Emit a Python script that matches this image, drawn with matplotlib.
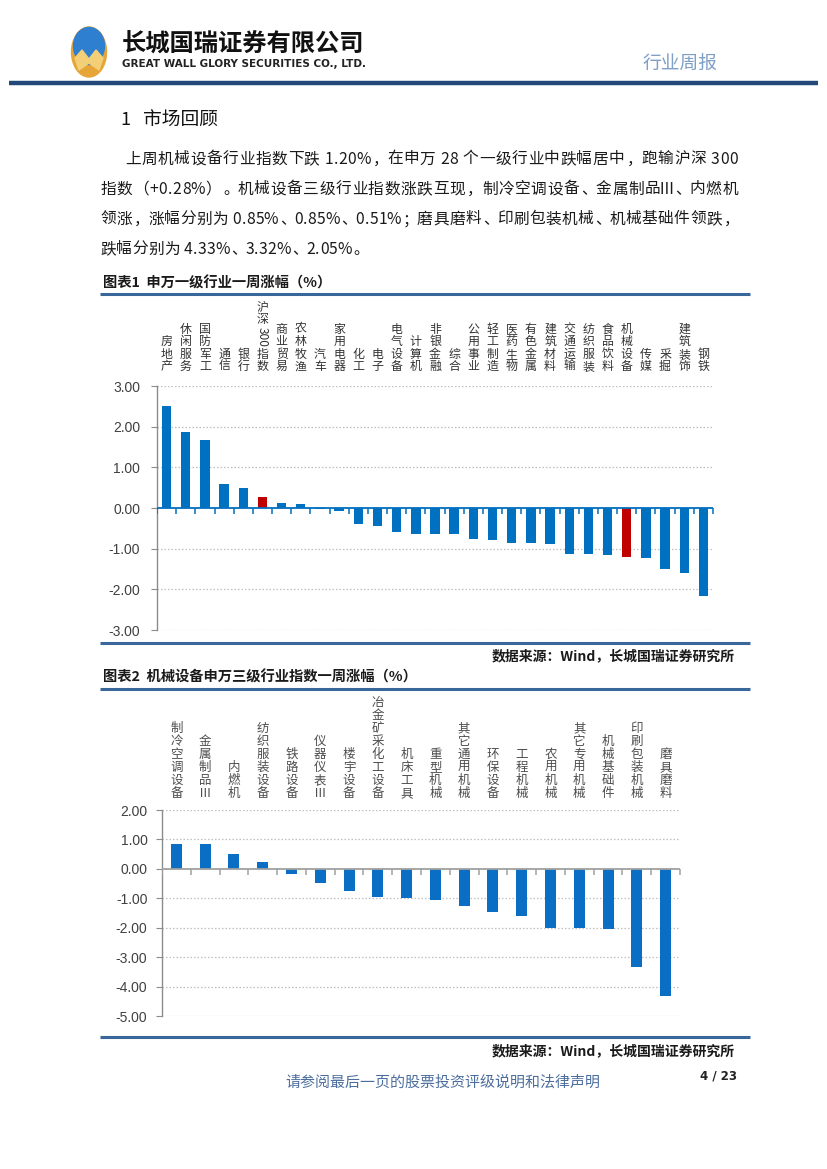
import matplotlib
matplotlib.use("Agg")
import matplotlib.pyplot as plt
from matplotlib.patches import Ellipse, Polygon
from matplotlib.ticker import FormatStrFormatter
from matplotlib.transforms import blended_transform_factory, offset_copy

plt.rcParams["font.family"] = ["Noto Sans CJK SC", "DejaVu Sans"]
plt.rcParams["axes.unicode_minus"] = False

W, H = 827, 1169

# 图表1 申万一级行业一周涨幅
sw_names = ["房地产", "休闲服务", "国防军工", "通信", "银行", "沪深300指数", "商业贸易",
            "农林牧渔", "汽车", "家用电器", "化工", "电子", "电气设备", "计算机",
            "非银金融", "综合", "公用事业", "轻工制造", "医药生物", "有色金属",
            "建筑材料", "交通运输", "纺织服装", "食品饮料", "机械设备", "传媒",
            "采掘", "建筑装饰", "钢铁"]
sw_values = [2.50, 1.87, 1.68, 0.58, 0.48, 0.28, 0.12, 0.09, -0.02, -0.08, -0.40,
             -0.44, -0.58, -0.64, -0.65, -0.65, -0.75, -0.78, -0.85, -0.87, -0.89,
             -1.12, -1.12, -1.16, -1.20, -1.22, -1.51, -1.61, -2.17]
highlight = ["沪深300指数", "机械设备"]

# 图表2 机械设备申万三级行业指数一周涨幅
mech_names = ["制冷空调设备", "金属制品Ⅲ", "内燃机", "纺织服装设备", "铁路设备",
              "仪器仪表Ⅲ", "楼宇设备", "冶金矿采化工设备", "机床工具", "重型机械",
              "其它通用机械", "环保设备", "工程机械", "农用机械", "其它专用机械",
              "机械基础件", "印刷包装机械", "磨具磨料"]
mech_values = [0.85, 0.85, 0.51, 0.23, -0.19, -0.48, -0.76, -0.94, -0.99, -1.05,
               -1.27, -1.47, -1.60, -2.00, -2.00, -2.05, -3.32, -4.33]

para_lines = [
    "上周机械设备行业指数下跌 1.20%，在申万 28 个一级行业中跌幅居中，跑输沪深 300",
    "指数（+0.28%）。机械设备三级行业指数涨跌互现，制冷空调设备、金属制品Ⅲ、内燃机",
    "领涨，涨幅分别为 0.85%、0.85%、0.51%；磨具磨料、印刷包装机械、机械基础件领跌，",
    "跌幅分别为 4.33%、3.32%、2.05%。",
]

BLUE = "#0070C0"
RED = "#C00000"
RULE = "#3A679B"

fig = plt.figure(figsize=(W / 100, H / 100), dpi=100)
bg = fig.add_axes([0, 0, 1, 1])
bg.set_xlim(0, W)
bg.set_ylim(H, 0)
bg.axis("off")

# ---- header ----
bg.add_patch(Ellipse((89, 52), 35, 50, color="#E7A437", zorder=2))
bg.add_patch(Ellipse((89, 46), 31, 37, color="#2F7FD0", zorder=3))
bg.add_patch(Polygon([(75, 58), (82, 50), (89, 59), (96, 50), (103, 58), (99, 70),
                      (89, 63), (79, 70)], closed=True, color="#F3CF78", zorder=4))
bg.text(122, 45, "长城国瑞证券有限公司", fontsize=17.5, fontweight="bold",
        color="#111111", va="center")
bg.text(122, 64, "GREAT WALL GLORY SECURITIES CO., LTD.", fontsize=7.5,
        fontweight="bold", color="#222222", va="center", family="DejaVu Sans")
bg.text(718, 63, "行业周报", fontsize=13.5, color="#7E9FC6", va="center", ha="right")
bg.plot([9, 818], [83, 83], color="#22497A", lw=3.2, solid_capstyle="butt")

# ---- section text ----
bg.text(120, 120, "1", fontsize=13, color="#111111", va="center")
bg.text(143, 120, "市场回顾", fontsize=13.5, color="#111111", va="center")

EM = 16.0
ascii_w = {".": 0.28, "%": 0.86, " ": 0.25, "+": 0.58}


def char_w(ch):
    if ch.isdigit():
        return 0.56 * EM
    if ch in ascii_w:
        return ascii_w[ch] * EM
    if ch == "Ⅲ":
        return 0.75 * EM
    return EM


def draw_line(text, x0, y, x1=None):
    widths = [char_w(c) for c in text]
    gap = 0.0
    if x1 is not None:
        gap = (x1 - x0 - sum(widths)) / (len(text) - 1)
    x = x0
    for c, w in zip(text, widths):
        if c in "，、。；：":
            # glyph sits low-left in its cell
            bg.text(x + 0.12 * EM, y + 0.05 * EM, c, fontsize=11.3, color="#1A1A1A",
                    ha="left", va="center")
        elif c != " ":
            bg.text(x + w / 2, y, c, fontsize=11.3, color="#1A1A1A",
                    ha="center", va="center")
        x += w + gap


draw_line(para_lines[0], 125, 159, 738)
draw_line(para_lines[1], 100, 189, 738)
draw_line(para_lines[2], 100, 219, 738)
draw_line(para_lines[3], 100, 249)


def split_tokens(name):
    toks = []
    for c in name:
        if c.isdigit() and toks and toks[-1].isdigit():
            toks[-1] += c
        else:
            toks.append(c)
    return toks


def vertical_labels(ax, names, gap, step, size, color):
    base = blended_transform_factory(ax.transData, ax.transAxes)
    for i, name in enumerate(names):
        pos = gap
        for tok in reversed(split_tokens(name)):
            if tok.isdigit():
                h = len(tok) * 0.56 * size * 100 / 72
                tr = offset_copy(base, fig=fig, x=0, y=pos + h / 2 + 1, units="dots")
                ax.text(i, 1, tok, rotation=-90, fontsize=size, color=color,
                        ha="center", va="center", transform=tr)
                pos += h + 2
            else:
                tr = offset_copy(base, fig=fig, x=0, y=pos + step / 2, units="dots")
                ax.text(i, 1, tok, fontsize=size, color=color, ha="center",
                        va="center", transform=tr)
                pos += step


def style_axes(ax, ylim, ticks, zero_color, pad):
    ax.set_ylim(*ylim)
    ax.set_yticks(ticks)
    ax.yaxis.set_major_formatter(FormatStrFormatter("%.2f"))
    ax.set_xticks([])
    for s in ["top", "right", "bottom"]:
        ax.spines[s].set_visible(False)
    ax.spines["left"].set_color("#8C8C8C")
    ax.spines["left"].set_linewidth(1.0)
    ax.tick_params(axis="y", length=4, color="#8C8C8C", pad=pad,
                   labelsize=10, labelcolor="#404040")
    plt.setp(ax.get_yticklabels(), family="Liberation Sans")
    for t in ticks:
        if t != 0:
            ax.axhline(t, color="#BFBFBF", lw=0.9, ls=(0, (1.2, 1.6)), zorder=0)
    n = len(ax.patches)
    bounds = [k - 0.5 for k in range(n + 1)]
    ax.axhline(0, color=zero_color, lw=1.3, zorder=3)
    # category tick marks hanging below the zero line
    ax.plot(bounds, [0] * len(bounds), ls="none", marker=3, ms=4,
            mew=1.1, color=zero_color, zorder=3)
    ax.set_xlim(-0.5, n - 0.5)


# ---- chart 1 ----
bg.text(103, 283, "图表1  申万一级行业一周涨幅（%）", fontsize=10.3, fontweight="bold",
        color="#1A1A1A", va="center")
bg.plot([100, 750], [294, 294], color=RULE, lw=2.2, solid_capstyle="butt")
ax1 = fig.add_axes([157 / W, 1 - 630 / H, (713 - 157) / W, (630 - 386) / H])
colors1 = [RED if n in highlight else BLUE for n in sw_names]
ax1.bar(range(len(sw_names)), sw_values, width=0.49, color=colors1, zorder=2)
style_axes(ax1, (-3, 3), [-3, -2, -1, 0, 1, 2, 3], BLUE, 8)
vertical_labels(ax1, sw_names, 13, 12.5, 8.6, "#333333")
bg.plot([100, 750], [643, 643], color=RULE, lw=2.2, solid_capstyle="butt")
bg.text(735, 656, "数据来源：Wind，长城国瑞证券研究所", fontsize=10, fontweight="bold",
        color="#1A1A1A", va="center", ha="right")

# ---- chart 2 ----
bg.text(103, 677, "图表2  机械设备申万三级行业指数一周涨幅（%）", fontsize=10.3,
        fontweight="bold", color="#1A1A1A", va="center")
bg.plot([100, 750], [689, 689], color=RULE, lw=2.2, solid_capstyle="butt")
ax2 = fig.add_axes([162 / W, 1 - 1016 / H, (680 - 162) / W, (1016 - 810) / H])
ax2.bar(range(len(mech_names)), mech_values, width=0.38, color="#0A6FC4", zorder=2)
style_axes(ax2, (-5, 2), [-5, -4, -3, -2, -1, 0, 1, 2], "#A0A0A0", 6.5)
vertical_labels(ax2, mech_names, 10, 13, 9, "#4D4D4D")
bg.plot([100, 750], [1037, 1037], color=RULE, lw=2.2, solid_capstyle="butt")
bg.text(735, 1051, "数据来源：Wind，长城国瑞证券研究所", fontsize=10, fontweight="bold",
        color="#1A1A1A", va="center", ha="right")

# ---- footer ----
bg.text(285, 1082, "请参阅最后一页的股票投资评级说明和法律声明", fontsize=10.8,
        color="#4C6E9E", va="center")
bg.text(737, 1076, "4 / 23", fontsize=8.5, fontweight="bold", color="#222222",
        va="center", ha="right", family="DejaVu Sans")

fig.savefig("out.png", dpi=100)
